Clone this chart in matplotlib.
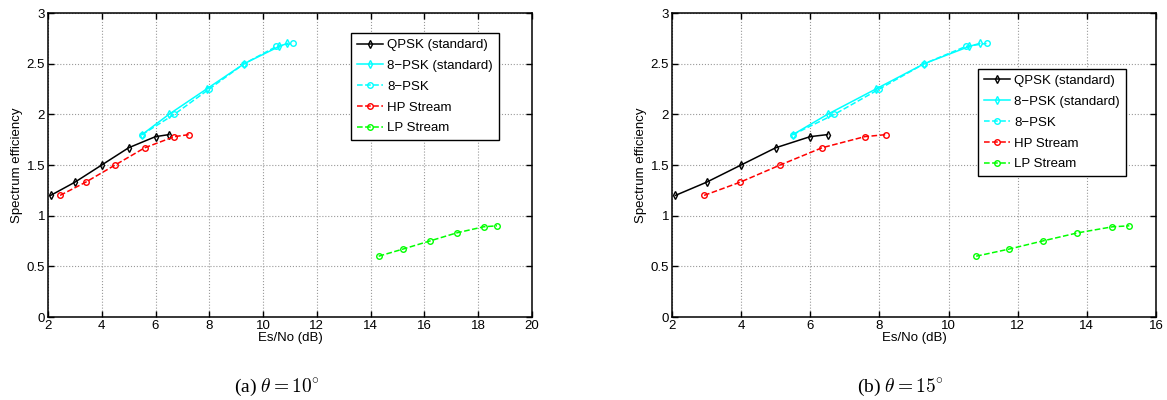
import matplotlib
matplotlib.use("Agg")
import matplotlib.pyplot as plt

plt.rcParams["font.family"] = ["Liberation Sans", "DejaVu Sans"]
plt.rcParams["mathtext.fontset"] = "cm"

# spectrum efficiency levels shared by every curve
eff_hi = [1.2, 1.33, 1.5, 1.67, 1.78, 1.8]
eff_8psk = [1.8, 2.0, 2.25, 2.5, 2.67, 2.7]
eff_lp = [0.6, 0.67, 0.75, 0.83, 0.89, 0.9]

# Es/No (dB), panel (a) theta = 10 deg
qpsk_std_a = [2.1, 3.0, 4.0, 5.0, 6.0, 6.5]
psk8_std_a = [5.5, 6.5, 7.9, 9.3, 10.6, 10.9]
psk8_a = [5.5, 6.7, 8.0, 9.3, 10.5, 11.1]
hp_a = [2.45, 3.4, 4.5, 5.6, 6.7, 7.25]
lp_a = [14.3, 15.2, 16.2, 17.2, 18.2, 18.7]

# Es/No (dB), panel (b) theta = 15 deg
qpsk_std_b = [2.1, 3.0, 4.0, 5.0, 6.0, 6.5]
psk8_std_b = [5.5, 6.5, 7.9, 9.3, 10.6, 10.9]
psk8_b = [5.5, 6.7, 8.0, 9.3, 10.5, 11.1]
hp_b = [2.93, 3.97, 5.13, 6.34, 7.58, 8.2]
lp_b = [10.8, 11.75, 12.72, 13.73, 14.74, 15.23]

labels = ["QPSK (standard)", "8\u2212PSK (standard)", "8\u2212PSK",
          "HP Stream", "LP Stream"]

fig = plt.figure(figsize=(11.67, 4.0), dpi=100)
ax_a = fig.add_axes([0.0411, 0.2075, 0.4147, 0.76])
ax_b = fig.add_axes([0.5758, 0.2075, 0.4147, 0.76])


def draw_panel(ax, qpsk_std, psk8_std, psk8, hp, lp, xmax, legend_xy):
    mk = dict(markersize=4, markerfacecolor="none", markeredgewidth=1.0)
    ax.plot(qpsk_std, eff_hi, "-", color="k", marker="d", lw=1.1,
            label=labels[0], **mk)
    ax.plot(psk8_std, eff_8psk, "-", color="#00ffff", marker="d", lw=1.1,
            label=labels[1], **mk)
    ax.plot(psk8, eff_8psk, "--", color="#00ffff", marker="o", lw=1.1,
            label=labels[2], **mk)
    ax.plot(hp, eff_hi, "--", color="#ff0000", marker="o", lw=1.1,
            label=labels[3], **mk)
    ax.plot(lp, eff_lp, "--", color="#00ff00", marker="o", lw=1.1,
            label=labels[4], **mk)
    ax.set_xlim(2, xmax)
    ax.set_ylim(0, 3)
    ax.set_xticks(range(2, xmax + 1, 2))
    ax.set_yticks([0, 0.5, 1, 1.5, 2, 2.5, 3])
    ax.set_yticklabels(["0", "0.5", "1", "1.5", "2", "2.5", "3"])
    ax.grid(True, linestyle=":", color="0.6", linewidth=0.8)
    ax.tick_params(direction="in", top=True, right=True, length=4,
                   width=1.0, labelsize=9.5, pad=2)
    for s in ax.spines.values():
        s.set_linewidth(1.1)
    ax.set_xlabel("Es/No (dB)", fontsize=9.5, labelpad=0)
    ax.set_ylabel("Spectrum efficiency", fontsize=9.5, labelpad=3)
    leg = ax.legend(loc="upper left", bbox_to_anchor=legend_xy,
                    fontsize=9.5, frameon=True, fancybox=False,
                    edgecolor="k", framealpha=1, handlelength=2.0,
                    handletextpad=0.3, labelspacing=0.65, borderpad=0.45,
                    borderaxespad=0)
    leg.get_frame().set_linewidth(1.0)


draw_panel(ax_a, qpsk_std_a, psk8_std_a, psk8_a, hp_a, lp_a, 20, (0.626, 0.934))
draw_panel(ax_b, qpsk_std_b, psk8_std_b, psk8_b, hp_b, lp_b, 16, (0.632, 0.816))

fig.text(277 / 1167, 1 - 387 / 400, r"(a) $\theta = 10^{\circ}$",
         ha="center", va="center", fontsize=14, family="Liberation Serif")
fig.text(900 / 1167, 1 - 387 / 400, r"(b) $\theta = 15^{\circ}$",
         ha="center", va="center", fontsize=14, family="Liberation Serif")

fig.savefig("out.png", dpi=100, facecolor="white")
